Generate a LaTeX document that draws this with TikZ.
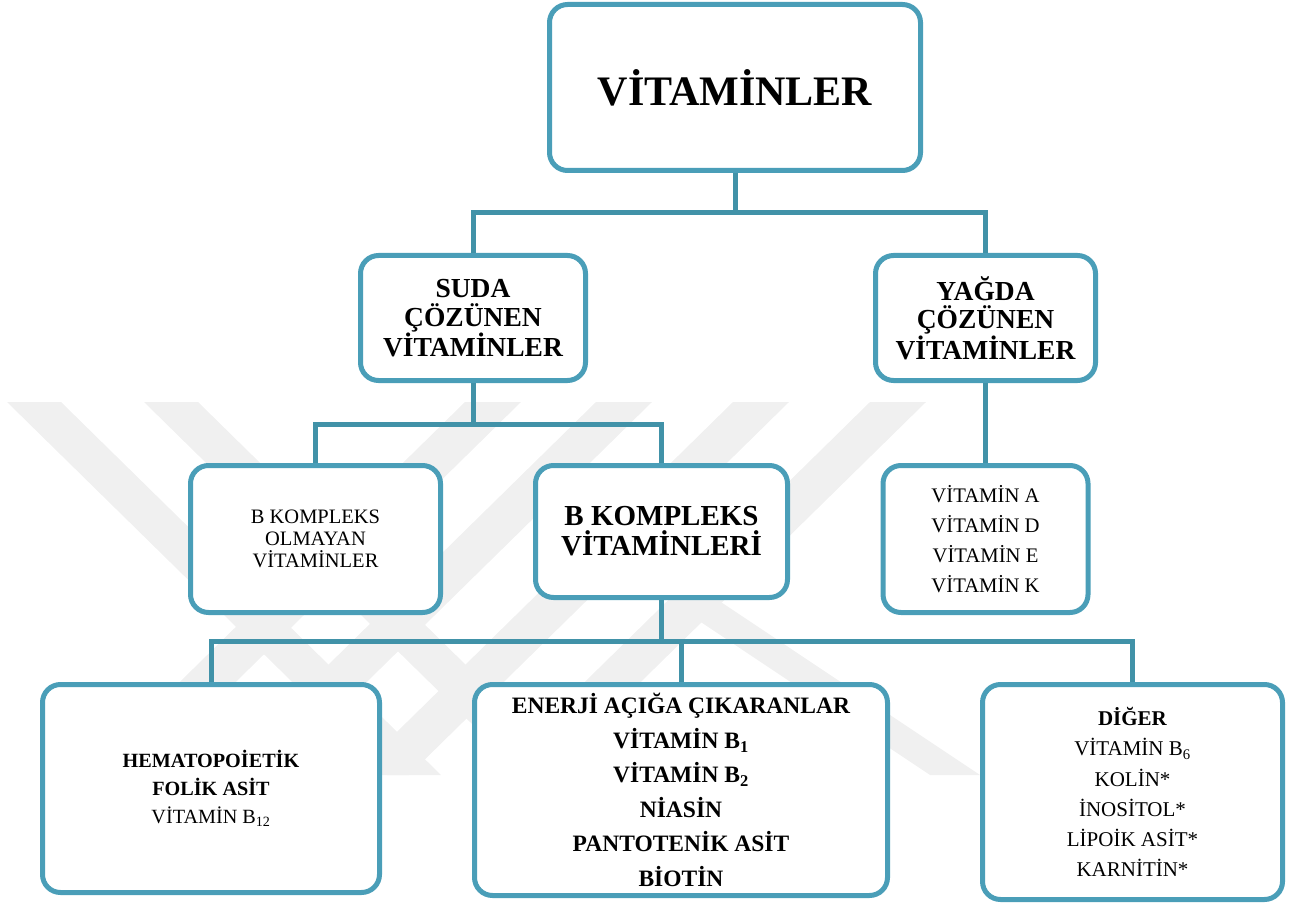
\documentclass[tikz,border=0pt]{standalone}
\usepackage{fontspec}
\setmainfont{Liberation Serif}
\usepackage{tikz}

\definecolor{boxcol}{HTML}{4A9EB8}
\definecolor{linkcol}{HTML}{4192A8}

\begin{document}
\begin{tikzpicture}[
    x=1pt, y=-1pt,
    box/.style={draw=boxcol,line width=5pt,rounded corners=18pt,fill=white,
                align=center,inner sep=0pt},
    link/.style={linkcol,line width=5pt},
    wmark/.style={black!6},
  ]
  \useasboundingbox (0,0) rectangle (1303,909);

  % --- faint watermark bands ---
  \foreach \a in {7,144}
    \fill[wmark] (\a,402) -- ++(54,0) -- ++(380,373) -- ++(-54,0) -- cycle;
  \foreach \a in {465,596,733,870}
    \fill[wmark] (\a,402) -- ++(56,0) -- ++(-380,373) -- ++(-56,0) -- cycle;
  \fill[wmark] (548,520) -- ++(50,0) -- ++(382,255) -- ++(-50,0) -- cycle;

  % --- root ---
  \node[box,minimum width=371pt,minimum height=166pt,
        font=\fontsize{42}{46}\selectfont\bfseries] (vit) at (735,87.5) {VİTAMİNLER};

  % --- second row ---
  \node[box,minimum width=225pt,minimum height=125pt,
        font=\fontsize{27.5}{28.5}\selectfont\bfseries] (suda) at (473,318)
        {SUDA\\ÇÖZÜNEN\\VİTAMİNLER};
  \node[box,minimum width=220pt,minimum height=125pt,
        font=\fontsize{27.5}{28.5}\selectfont\bfseries] (yagda) at (985.5,318)
        {YAĞDA\\ÇÖZÜNEN\\VİTAMİNLER};

  % --- third row ---
  \node[box,minimum width=250pt,minimum height=147pt,
        font=\fontsize{20.5}{21.7}\selectfont] (bnon) at (315.5,539)
        {B KOMPLEKS\\OLMAYAN\\VİTAMİNLER};
  \node[box,minimum width=252pt,minimum height=132pt,
        font=\fontsize{29}{30}\selectfont\bfseries] (bvit) at (661.5,531.5)
        {B KOMPLEKS\\VİTAMİNLERİ};
  \node[box,minimum width=205pt,minimum height=147pt,
        font=\fontsize{20.7}{30}\selectfont] (yvit) at (985.5,539)
        {VİTAMİN A\\VİTAMİN D\\VİTAMİN E\\VİTAMİN K};

  % --- bottom row ---
  \node[box,minimum width=337pt,minimum height=208pt,
        font=\fontsize{20.2}{28}\selectfont] (hema) at (211,788.5)
        {\textbf{HEMATOPOİETİK}\\\textbf{FOLİK ASİT}\\VİTAMİN B\textsubscript{12}};
  \node[box,minimum width=413pt,minimum height=211pt,
        font=\fontsize{23.5}{34.5}\selectfont\bfseries] (ener) at (681,790)
        {ENERJİ AÇIĞA ÇIKARANLAR\\VİTAMİN B\textsubscript{1}\\VİTAMİN B\textsubscript{2}\\
         NİASİN\\PANTOTENİK ASİT\\BİOTİN};
  \node[box,minimum width=300pt,minimum height=215pt,
        font=\fontsize{21}{30.1}\selectfont] (diger) at (1132.5,792)
        {\textbf{DİĞER}\\VİTAMİN B\textsubscript{6}\\KOLİN*\\İNOSİTOL*\\LİPOİK ASİT*\\KARNİTİN*};

  % --- connectors ---
  \coordinate (j1) at (735,213);
  \draw[link] (vit.south) -- (j1);
  \draw[link] (suda.north) |- (j1) -| (yagda.north);

  \coordinate (j2) at (473,424);
  \draw[link] (suda.south) -- (j2);
  \draw[link] (bnon.north) |- (j2) -| (bvit.north);
  \draw[link] (yagda.south) -- (yvit.north);

  \coordinate (j3) at (661.5,641);
  \draw[link] (bvit.south) -- (j3);
  \draw[link] (hema.north) |- (j3) -| (diger.north);
  \draw[link] (ener.north) -- (ener.north |- j3);

\end{tikzpicture}
\end{document}
